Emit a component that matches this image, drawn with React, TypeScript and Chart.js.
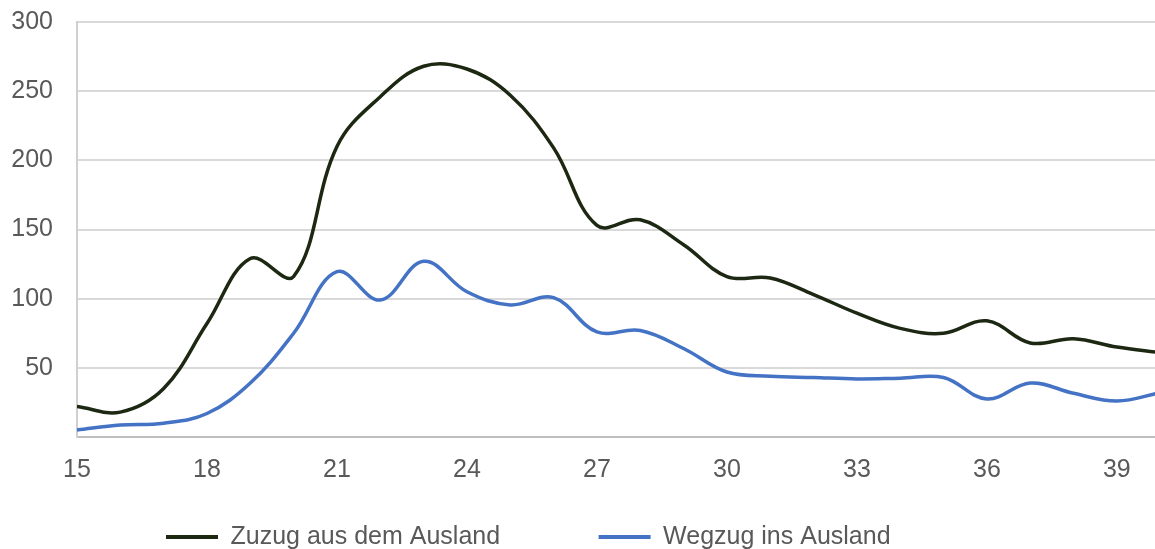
import React, { useEffect, useRef } from 'react';
import { Chart, registerables } from 'chart.js';

Chart.register(...registerables);

const ages = [15, 16, 17, 18, 19, 20, 21, 22, 23, 24, 25, 26, 27, 28, 29, 30, 31, 32, 33, 34, 35, 36, 37, 38, 39, 40];
const zuzug = [22, 18, 35, 82, 129, 116, 210, 246, 268, 266, 247, 209, 153, 157, 139, 116, 115, 103, 89.5, 78.5, 75, 84, 68, 71, 65, 61];
const wegzug = [5, 8.7, 10, 17, 39, 75, 119.5, 99, 127, 105, 95.5, 100.7, 76, 77, 64, 47, 44, 43, 42, 42.5, 43, 27.5, 39, 31.6, 26, 32];
const xTicks = [15, 18, 21, 24, 27, 30, 33, 36, 39];
const yTicks = [0, 50, 100, 150, 200, 250, 300];
const seriesNames = ['Zuzug aus dem Ausland', 'Wegzug ins Ausland'];

const FONT = "'Liberation Sans', Arial, sans-serif";
const TEXT_COLOR = '#595959';
const LEGEND_PAD = 17;
const LEGEND_FONT = 25;
const LEGEND_BOX = 52;
const LEGEND_START_X = 166;
const LEGEND_TEXT_CENTER_Y = 537;

const legendPlacer = {
  id: 'legendPlacer',
  afterLayout(chart: any) {
    const lg = chart.legend;
    if (!lg || !lg.lineWidths) return;
    const L = lg.lineWidths[0];
    lg.left = 0;
    lg.right = 2 * LEGEND_START_X - LEGEND_PAD + L;
    const top = LEGEND_TEXT_CENTER_Y - LEGEND_PAD - LEGEND_FONT / 2;
    const h = lg.bottom - lg.top;
    lg.top = top;
    lg.bottom = top + h;
  },
};

export default function App() {
  const ref = useRef<HTMLCanvasElement | null>(null);

  useEffect(() => {
    if (!ref.current) return;
    const chart = new Chart(ref.current, {
      type: 'line',
      data: {
        datasets: [
          {
            label: seriesNames[0],
            data: ages.map((a, i) => ({ x: a, y: zuzug[i] })),
            borderColor: '#1d2813',
            backgroundColor: '#1d2813',
            borderWidth: 3.5,
            pointRadius: 0,
            tension: 0.38,
          },
          {
            label: seriesNames[1],
            data: ages.map((a, i) => ({ x: a, y: wegzug[i] })),
            borderColor: '#4472c4',
            backgroundColor: '#4472c4',
            borderWidth: 3.5,
            pointRadius: 0,
            tension: 0.38,
          },
        ],
      },
      options: {
        animation: false,
        responsive: true,
        maintainAspectRatio: false,
        layout: { padding: { left: 0, right: 0, top: 22, bottom: 5 } },
        plugins: {
          tooltip: { enabled: false },
          legend: {
            position: 'bottom',
            labels: {
              padding: LEGEND_PAD,
              boxWidth: LEGEND_BOX,
              boxHeight: 4,
              color: TEXT_COLOR,
              font: { family: FONT, size: LEGEND_FONT },
              generateLabels: (c: any) => {
                const base = Chart.defaults.plugins.legend.labels.generateLabels(c);
                base.forEach((it: any) => {
                  it.fillStyle = it.strokeStyle;
                  it.lineWidth = 0;
                });
                const spacer: any = {
                  text: '',
                  fillStyle: 'rgba(0,0,0,0)',
                  strokeStyle: 'rgba(0,0,0,0)',
                  lineWidth: 0,
                  hidden: false,
                  datasetIndex: -1,
                };
                return [base[0], spacer, base[1]];
              },
            },
          },
        },
        scales: {
          x: {
            type: 'linear',
            min: 15,
            max: 39.88,
            afterBuildTicks: (s: any) => {
              s.ticks = xTicks.map((v) => ({ value: v }));
            },
            afterFit: (s: any) => {
              s.height = 55;
            },
            ticks: {
              padding: 18,
              color: TEXT_COLOR,
              font: { family: FONT, size: 25 },
              maxRotation: 0,
              autoSkip: false,
            },
            grid: { display: false, drawTicks: false },
            border: { display: true, color: '#bfbfbf', width: 2 },
          },
          y: {
            min: 0,
            max: 300,
            afterBuildTicks: (s: any) => {
              s.ticks = yTicks.map((v) => ({ value: v }));
            },
            afterFit: (s: any) => {
              s.width = 77;
              s.paddingTop = 15;
              s.paddingBottom = 0;
            },
            ticks: {
              padding: 24,
              color: TEXT_COLOR,
              font: { family: FONT, size: 25 },
              callback: (v: any) => (v === 0 ? '' : String(v)),
            },
            grid: { color: '#d9d9d9', lineWidth: 2, drawTicks: false },
            border: { display: true, color: '#d0d0d0', width: 2 },
          },
        },
      },
      plugins: [legendPlacer],
    });
    return () => chart.destroy();
  }, []);

  return (
    <div style={{ position: 'fixed', left: 0, top: 0, width: 1155, height: 549, background: '#fff' }}>
      <canvas ref={ref} />
    </div>
  );
}
